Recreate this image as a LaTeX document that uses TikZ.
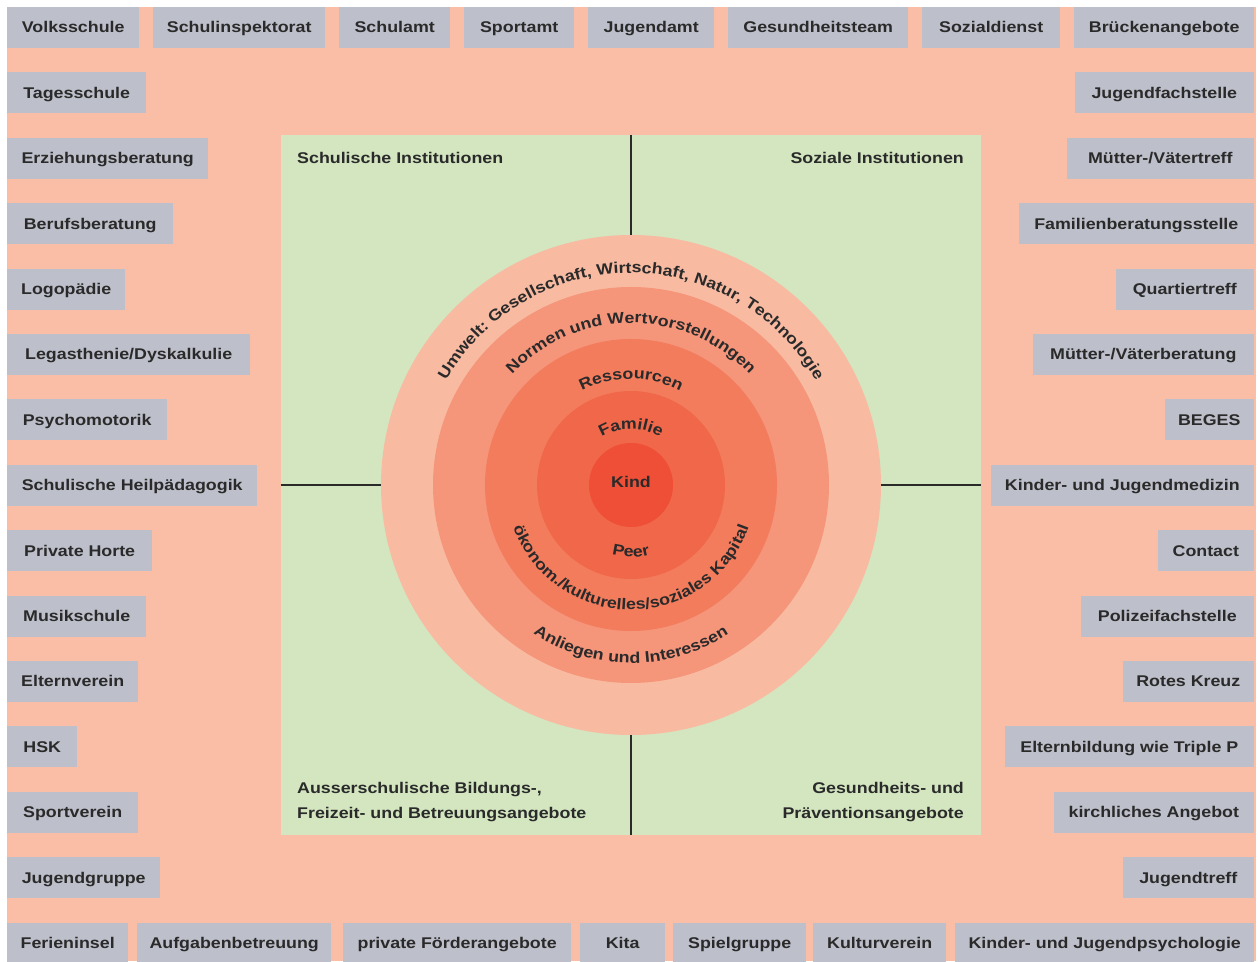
\documentclass[tikz,border=0pt]{standalone}
\usepackage{fontspec}
\setmainfont{Liberation Sans}[FakeStretch=1.15]
\usetikzlibrary{decorations.text}

\definecolor{peach}{HTML}{F9BEA5}
\definecolor{boxgray}{HTML}{BDBFCA}
\definecolor{quadgreen}{HTML}{D3E6C0}
\definecolor{ink}{HTML}{2A2A2A}
\definecolor{ringA}{HTML}{F8BBA1}
\definecolor{ringB}{HTML}{F5957A}
\definecolor{ringC}{HTML}{F37C5D}
\definecolor{ringD}{HTML}{F0674A}
\definecolor{ringE}{HTML}{EE4F36}

\newcommand\lblfont{\fontsize{15.5}{25}\selectfont\bfseries}

\tikzset{
  box/.style={fill=boxgray, text=ink, font=\lblfont, minimum height=41pt, inner sep=0pt,
      text height=14pt, text depth=3.3pt},
  divider/.style={draw=ink, line width=1.8pt},
  ring/.style={circle, inner sep=0pt, minimum size=#1},
  arctext/.style={decorate, decoration={text along path, text align=center,
      text={|\lblfont\color{ink}|#1}}}
}

\begin{document}
\begin{tikzpicture}[x=1pt,y=1pt]
	\path[use as bounding box, clip] (0,0) rectangle (1258,961);
	\fill[peach] (7,0) rectangle (1256,954);

            % top and bottom rows
            \foreach \txt/\xa/\w [count=\i] in {Volksschule/7/132, Schulinspektorat/153/172, Schulamt/339/111,
                Sportamt/464/110, Jugendamt/588/126, Gesundheitsteam/728/180, Sozialdienst/922/138, Brückenangebote/1074/180}{
              \node[box, anchor=west, minimum width=\w pt] (top\i) at (\xa,933.5) {\txt};
            }
            \foreach \txt/\xa/\w [count=\i] in {Ferieninsel/7/121, Aufgabenbetreuung/137/194, private Förderangebote/343/228,
                Kita/580/85, Spielgruppe/673/133, Kulturverein/813/133, Kinder- und Jugendpsychologie/955/299}{
              \node[box, anchor=west, minimum width=\w pt] (bot\i) at (\xa,17.9) {\txt};
            }

            % left and right columns
            \foreach \txt/\w [count=\i, evaluate=\i as \y using 933.5-65.4*\i] in {Tagesschule/139, Erziehungsberatung/201,
                Berufsberatung/166, Logopädie/118, {Legasthenie/Dyskalkulie}/243, Psychomotorik/160,
                Schulische Heilpädagogik/250, Private Horte/145, Musikschule/139, Elternverein/131, HSK/70,
                Sportverein/131, Jugendgruppe/153}{
              \node[box, anchor=west, minimum width=\w pt] (left\i) at (7,\y) {\txt};
            }
            \foreach \txt/\w [count=\i, evaluate=\i as \y using 933.5-65.4*\i] in {Jugendfachstelle/179, {Mütter-/Vätertreff}/187,
                Familienberatungsstelle/235, Quartiertreff/138, {Mütter-/Väterberatung}/221, BEGES/89,
                Kinder- und Jugendmedizin/263, Contact/96, Polizeifachstelle/173, Rotes Kreuz/131,
                Elternbildung wie Triple P/249, kirchliches Angebot/200, Jugendtreff/131}{
              \node[box, anchor=east, minimum width=\w pt] (right\i) at (1254,\y) {\txt};
            }

            % quadrants
            \node[fill=quadgreen, minimum size=700pt, inner sep=0pt] (quad) at (631,476) {};
            \node[font=\lblfont, text=ink, anchor=base west, inner sep=0pt] (schul) at (297,797) {Schulische Institutionen};
            \node[font=\lblfont, text=ink, anchor=base east, inner sep=0pt] (sozial) at (964,797) {Soziale Institutionen};
            \node[font=\lblfont, text=ink, anchor=south west, align=left, inner sep=0pt] (ausser) at (297,139)
              {Ausserschulische Bildungs-,\\Freizeit- und Betreuungsangebote};
            \node[font=\lblfont, text=ink, anchor=south east, align=right, inner sep=0pt] (gesund) at (964,139)
              {Gesundheits- und\\Präventionsangebote};

            \begin{scope}[shift={(631,476)}]
              \node[ring=500pt, fill=ringA] (ring1) at (0,0) {};
              \node[ring=396pt, fill=ringB] (ring2) at (0,0) {};
              \node[ring=292pt, fill=ringC] (ring3) at (0,0) {};
              \node[ring=188pt, fill=ringD] (ring4) at (0,0) {};
              \node[ring=84pt, fill=ringE] (ring5) at (0,0) {};
              \node[font=\lblfont, text=ink] (kind) at (0,3) {Kind};

              \path[arctext={Umwelt: Gesellschaft, Wirtschaft, Natur, Technologie}] (180:212) arc[start angle=180, end angle=0, radius=212];
              \path[arctext={Normen und Wertvorstellungen}] (180:162) arc[start angle=180, end angle=0, radius=162];
              \path[arctext={Ressourcen}] (180:106) arc[start angle=180, end angle=0, radius=106];
              \path[arctext={Familie}] (180:56) arc[start angle=180, end angle=0, radius=56];
              \path[arctext={Peer}] (180:72) arc[start angle=180, end angle=360, radius=72];
              \path[arctext={ökonom./kulturelles/soziales Kapital}] (180:125) arc[start angle=180, end angle=360, radius=125];
              \path[arctext={Anliegen und Interessen}] (180:178) arc[start angle=180, end angle=360, radius=178];
            \end{scope}

            \draw[divider] (quad.north) -- (ring1.north);
            \draw[divider] (quad.south) -- (ring1.south);
            \draw[divider] (quad.west) -- (ring1.west);
            \draw[divider] (quad.east) -- (ring1.east);
\end{tikzpicture}
\end{document}
